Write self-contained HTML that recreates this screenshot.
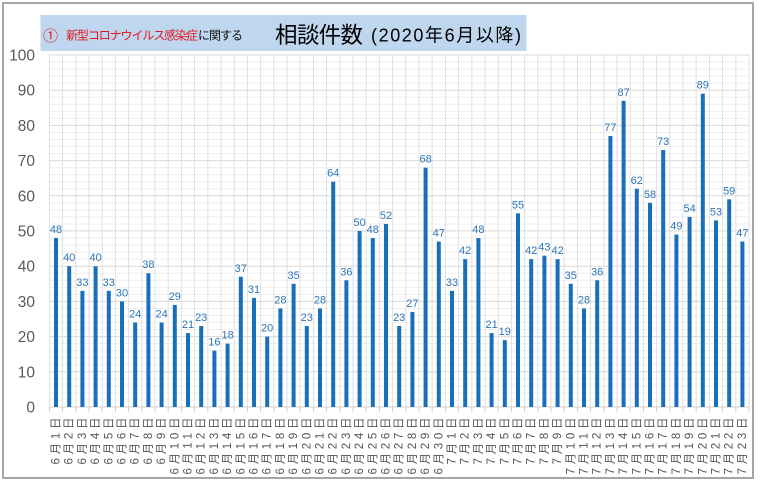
<!DOCTYPE html>
<html><head><meta charset="utf-8"><style>
html,body{margin:0;padding:0;background:#fff;}
svg{display:block;}
text{font-family:"Liberation Sans","Noto Sans CJK JP",sans-serif;}
</style></head><body>
<svg width="761" height="484" viewBox="0 0 761 484" xmlns="http://www.w3.org/2000/svg">
<rect x="0" y="0" width="761" height="484" fill="#fff"/>
<rect x="3" y="3" width="750" height="475" fill="#fff" stroke="#a6a6a6" stroke-width="2"/>
<!-- title -->
<rect x="40.5" y="15" width="486" height="36" fill="#bed6ee"/>
<text x="43" y="41" font-size="15" fill="#e3141c">①</text>
<text x="66" y="39.5" font-size="12" fill="#e3141c" textLength="132" lengthAdjust="spacing">新型コロナウイルス感染症</text>
<text x="198" y="39.5" font-size="12" fill="#111" textLength="45" lengthAdjust="spacing">に関する</text>
<text x="275" y="43" font-size="22.5" fill="#000" textLength="88" lengthAdjust="spacing">相談件数</text>
<text x="371" y="41.5" font-size="18" fill="#000" textLength="150" lengthAdjust="spacing">(2020年6月以降)</text>
<!-- minor horizontal grid -->
<path stroke="#efefef" stroke-width="1" fill="none" d="M49.4 399.96H749M49.4 392.92H749M49.4 385.88H749M49.4 378.84H749M49.4 364.76H749M49.4 357.72H749M49.4 350.68H749M49.4 343.64H749M49.4 329.56H749M49.4 322.52H749M49.4 315.48H749M49.4 308.44H749M49.4 294.36H749M49.4 287.32H749M49.4 280.28H749M49.4 273.24H749M49.4 259.16H749M49.4 252.12H749M49.4 245.08H749M49.4 238.04H749M49.4 223.96H749M49.4 216.92H749M49.4 209.88H749M49.4 202.84H749M49.4 188.76H749M49.4 181.72H749M49.4 174.68H749M49.4 167.64H749M49.4 153.56H749M49.4 146.52H749M49.4 139.48H749M49.4 132.44H749M49.4 118.36H749M49.4 111.32H749M49.4 104.28H749M49.4 97.24H749M49.4 83.16H749M49.4 76.12H749M49.4 69.08H749M49.4 62.04H749"/>
<!-- vertical grid -->
<path stroke="#e2e2e2" stroke-width="1" fill="none" d="M49.4 55V407M62.6 55V407M75.8 55V407M89 55V407M102.2 55V407M115.4 55V407M128.6 55V407M141.8 55V407M155 55V407M168.2 55V407M181.4 55V407M194.6 55V407M207.8 55V407M221 55V407M234.2 55V407M247.4 55V407M260.6 55V407M273.8 55V407M287 55V407M300.2 55V407M313.4 55V407M326.6 55V407M339.8 55V407M353 55V407M366.2 55V407M379.4 55V407M392.6 55V407M405.8 55V407M419 55V407M432.2 55V407M445.4 55V407M458.6 55V407M471.8 55V407M485 55V407M498.2 55V407M511.4 55V407M524.6 55V407M537.8 55V407M551 55V407M564.2 55V407M577.4 55V407M590.6 55V407M603.8 55V407M617 55V407M630.2 55V407M643.4 55V407M656.6 55V407M669.8 55V407M683 55V407M696.2 55V407M709.4 55V407M722.6 55V407M735.8 55V407M749 55V407"/>
<!-- major horizontal grid -->
<path stroke="#d9d9d9" stroke-width="1" fill="none" d="M49.4 371.8H749M49.4 336.6H749M49.4 301.4H749M49.4 266.2H749M49.4 231H749M49.4 195.8H749M49.4 160.6H749M49.4 125.4H749M49.4 90.2H749M49.4 55H749"/>
<!-- axis + ticks -->
<path stroke="#cfcfcf" stroke-width="1" fill="none" d="M49.4 407H749M49.4 407V412M62.6 407V412M75.8 407V412M89 407V412M102.2 407V412M115.4 407V412M128.6 407V412M141.8 407V412M155 407V412M168.2 407V412M181.4 407V412M194.6 407V412M207.8 407V412M221 407V412M234.2 407V412M247.4 407V412M260.6 407V412M273.8 407V412M287 407V412M300.2 407V412M313.4 407V412M326.6 407V412M339.8 407V412M353 407V412M366.2 407V412M379.4 407V412M392.6 407V412M405.8 407V412M419 407V412M432.2 407V412M445.4 407V412M458.6 407V412M471.8 407V412M485 407V412M498.2 407V412M511.4 407V412M524.6 407V412M537.8 407V412M551 407V412M564.2 407V412M577.4 407V412M590.6 407V412M603.8 407V412M617 407V412M630.2 407V412M643.4 407V412M656.6 407V412M669.8 407V412M683 407V412M696.2 407V412M709.4 407V412M722.6 407V412M735.8 407V412M749 407V412"/>
<!-- y labels -->
<g font-size="15.5" fill="#595959" text-anchor="end">
<text x="35" y="412.5">0</text>
<text x="35" y="377.3">10</text>
<text x="35" y="342.1">20</text>
<text x="35" y="306.9">30</text>
<text x="35" y="271.7">40</text>
<text x="35" y="236.5">50</text>
<text x="35" y="201.3">60</text>
<text x="35" y="166.1">70</text>
<text x="35" y="130.9">80</text>
<text x="35" y="95.7">90</text>
<text x="35" y="60.5">100</text>
</g>
<!-- bars -->
<g fill="#1b6fba" transform="translate(0,407) scale(1,-3.52)">
<rect x="54" y="0" width="4" height="48"/>
<rect x="67.2" y="0" width="4" height="40"/>
<rect x="80.4" y="0" width="4" height="33"/>
<rect x="93.6" y="0" width="4" height="40"/>
<rect x="106.8" y="0" width="4" height="33"/>
<rect x="120" y="0" width="4" height="30"/>
<rect x="133.2" y="0" width="4" height="24"/>
<rect x="146.4" y="0" width="4" height="38"/>
<rect x="159.6" y="0" width="4" height="24"/>
<rect x="172.8" y="0" width="4" height="29"/>
<rect x="186" y="0" width="4" height="21"/>
<rect x="199.2" y="0" width="4" height="23"/>
<rect x="212.4" y="0" width="4" height="16"/>
<rect x="225.6" y="0" width="4" height="18"/>
<rect x="238.8" y="0" width="4" height="37"/>
<rect x="252" y="0" width="4" height="31"/>
<rect x="265.2" y="0" width="4" height="20"/>
<rect x="278.4" y="0" width="4" height="28"/>
<rect x="291.6" y="0" width="4" height="35"/>
<rect x="304.8" y="0" width="4" height="23"/>
<rect x="318" y="0" width="4" height="28"/>
<rect x="331.2" y="0" width="4" height="64"/>
<rect x="344.4" y="0" width="4" height="36"/>
<rect x="357.6" y="0" width="4" height="50"/>
<rect x="370.8" y="0" width="4" height="48"/>
<rect x="384" y="0" width="4" height="52"/>
<rect x="397.2" y="0" width="4" height="23"/>
<rect x="410.4" y="0" width="4" height="27"/>
<rect x="423.6" y="0" width="4" height="68"/>
<rect x="436.8" y="0" width="4" height="47"/>
<rect x="450" y="0" width="4" height="33"/>
<rect x="463.2" y="0" width="4" height="42"/>
<rect x="476.4" y="0" width="4" height="48"/>
<rect x="489.6" y="0" width="4" height="21"/>
<rect x="502.8" y="0" width="4" height="19"/>
<rect x="516" y="0" width="4" height="55"/>
<rect x="529.2" y="0" width="4" height="42"/>
<rect x="542.4" y="0" width="4" height="43"/>
<rect x="555.6" y="0" width="4" height="42"/>
<rect x="568.8" y="0" width="4" height="35"/>
<rect x="582" y="0" width="4" height="28"/>
<rect x="595.2" y="0" width="4" height="36"/>
<rect x="608.4" y="0" width="4" height="77"/>
<rect x="621.6" y="0" width="4" height="87"/>
<rect x="634.8" y="0" width="4" height="62"/>
<rect x="648" y="0" width="4" height="58"/>
<rect x="661.2" y="0" width="4" height="73"/>
<rect x="674.4" y="0" width="4" height="49"/>
<rect x="687.6" y="0" width="4" height="54"/>
<rect x="700.8" y="0" width="4" height="89"/>
<rect x="714" y="0" width="4" height="53"/>
<rect x="727.2" y="0" width="4" height="59"/>
<rect x="740.4" y="0" width="4" height="47"/>
</g>
<!-- data labels -->
<g font-size="11" fill="#2e75b6" text-anchor="middle">
<text x="56" y="233">48</text>
<text x="69.2" y="261.2">40</text>
<text x="82.4" y="285.8">33</text>
<text x="95.6" y="261.2">40</text>
<text x="108.8" y="285.8">33</text>
<text x="122" y="296.4">30</text>
<text x="135.2" y="317.5">24</text>
<text x="148.4" y="268.2">38</text>
<text x="161.6" y="317.5">24</text>
<text x="174.8" y="299.9">29</text>
<text x="188" y="328.1">21</text>
<text x="201.2" y="321">23</text>
<text x="214.4" y="345.7">16</text>
<text x="227.6" y="338.6">18</text>
<text x="240.8" y="271.8">37</text>
<text x="254" y="292.9">31</text>
<text x="267.2" y="331.6">20</text>
<text x="280.4" y="303.4">28</text>
<text x="293.6" y="278.8">35</text>
<text x="306.8" y="321">23</text>
<text x="320" y="303.4">28</text>
<text x="333.2" y="176.7">64</text>
<text x="346.4" y="275.3">36</text>
<text x="359.6" y="226">50</text>
<text x="372.8" y="233">48</text>
<text x="386" y="219">52</text>
<text x="399.2" y="321">23</text>
<text x="412.4" y="307">27</text>
<text x="425.6" y="162.6">68</text>
<text x="438.8" y="236.6">47</text>
<text x="452" y="285.8">33</text>
<text x="465.2" y="254.2">42</text>
<text x="478.4" y="233">48</text>
<text x="491.6" y="328.1">21</text>
<text x="504.8" y="335.1">19</text>
<text x="518" y="208.4">55</text>
<text x="531.2" y="254.2">42</text>
<text x="544.4" y="250.6">43</text>
<text x="557.6" y="254.2">42</text>
<text x="570.8" y="278.8">35</text>
<text x="584" y="303.4">28</text>
<text x="597.2" y="275.3">36</text>
<text x="610.4" y="131">77</text>
<text x="623.6" y="95.8">87</text>
<text x="636.8" y="183.8">62</text>
<text x="650" y="197.8">58</text>
<text x="663.2" y="145">73</text>
<text x="676.4" y="229.5">49</text>
<text x="689.6" y="211.9">54</text>
<text x="702.8" y="88.7">89</text>
<text x="716" y="215.4">53</text>
<text x="729.2" y="194.3">59</text>
<text x="742.4" y="236.6">47</text>
</g>
<!-- x labels -->
<g font-size="11.5" fill="#555" text-anchor="end" dominant-baseline="central">
<text transform="translate(56.5,417.5) rotate(-90)" textLength="47" lengthAdjust="spacing">6月1日</text>
<text transform="translate(69.7,417.5) rotate(-90)" textLength="47" lengthAdjust="spacing">6月2日</text>
<text transform="translate(82.9,417.5) rotate(-90)" textLength="47" lengthAdjust="spacing">6月3日</text>
<text transform="translate(96.1,417.5) rotate(-90)" textLength="47" lengthAdjust="spacing">6月4日</text>
<text transform="translate(109.3,417.5) rotate(-90)" textLength="47" lengthAdjust="spacing">6月5日</text>
<text transform="translate(122.5,417.5) rotate(-90)" textLength="47" lengthAdjust="spacing">6月6日</text>
<text transform="translate(135.7,417.5) rotate(-90)" textLength="47" lengthAdjust="spacing">6月7日</text>
<text transform="translate(148.9,417.5) rotate(-90)" textLength="47" lengthAdjust="spacing">6月8日</text>
<text transform="translate(162.1,417.5) rotate(-90)" textLength="47" lengthAdjust="spacing">6月9日</text>
<text transform="translate(175.3,417.5) rotate(-90)" textLength="57" lengthAdjust="spacing">6月10日</text>
<text transform="translate(188.5,417.5) rotate(-90)" textLength="57" lengthAdjust="spacing">6月11日</text>
<text transform="translate(201.7,417.5) rotate(-90)" textLength="57" lengthAdjust="spacing">6月12日</text>
<text transform="translate(214.9,417.5) rotate(-90)" textLength="57" lengthAdjust="spacing">6月13日</text>
<text transform="translate(228.1,417.5) rotate(-90)" textLength="57" lengthAdjust="spacing">6月14日</text>
<text transform="translate(241.3,417.5) rotate(-90)" textLength="57" lengthAdjust="spacing">6月15日</text>
<text transform="translate(254.5,417.5) rotate(-90)" textLength="57" lengthAdjust="spacing">6月16日</text>
<text transform="translate(267.7,417.5) rotate(-90)" textLength="57" lengthAdjust="spacing">6月17日</text>
<text transform="translate(280.9,417.5) rotate(-90)" textLength="57" lengthAdjust="spacing">6月18日</text>
<text transform="translate(294.1,417.5) rotate(-90)" textLength="57" lengthAdjust="spacing">6月19日</text>
<text transform="translate(307.3,417.5) rotate(-90)" textLength="57" lengthAdjust="spacing">6月20日</text>
<text transform="translate(320.5,417.5) rotate(-90)" textLength="57" lengthAdjust="spacing">6月21日</text>
<text transform="translate(333.7,417.5) rotate(-90)" textLength="57" lengthAdjust="spacing">6月22日</text>
<text transform="translate(346.9,417.5) rotate(-90)" textLength="57" lengthAdjust="spacing">6月23日</text>
<text transform="translate(360.1,417.5) rotate(-90)" textLength="57" lengthAdjust="spacing">6月24日</text>
<text transform="translate(373.3,417.5) rotate(-90)" textLength="57" lengthAdjust="spacing">6月25日</text>
<text transform="translate(386.5,417.5) rotate(-90)" textLength="57" lengthAdjust="spacing">6月26日</text>
<text transform="translate(399.7,417.5) rotate(-90)" textLength="57" lengthAdjust="spacing">6月27日</text>
<text transform="translate(412.9,417.5) rotate(-90)" textLength="57" lengthAdjust="spacing">6月28日</text>
<text transform="translate(426.1,417.5) rotate(-90)" textLength="57" lengthAdjust="spacing">6月29日</text>
<text transform="translate(439.3,417.5) rotate(-90)" textLength="57" lengthAdjust="spacing">6月30日</text>
<text transform="translate(452.5,417.5) rotate(-90)" textLength="47" lengthAdjust="spacing">7月1日</text>
<text transform="translate(465.7,417.5) rotate(-90)" textLength="47" lengthAdjust="spacing">7月2日</text>
<text transform="translate(478.9,417.5) rotate(-90)" textLength="47" lengthAdjust="spacing">7月3日</text>
<text transform="translate(492.1,417.5) rotate(-90)" textLength="47" lengthAdjust="spacing">7月4日</text>
<text transform="translate(505.3,417.5) rotate(-90)" textLength="47" lengthAdjust="spacing">7月5日</text>
<text transform="translate(518.5,417.5) rotate(-90)" textLength="47" lengthAdjust="spacing">7月6日</text>
<text transform="translate(531.7,417.5) rotate(-90)" textLength="47" lengthAdjust="spacing">7月7日</text>
<text transform="translate(544.9,417.5) rotate(-90)" textLength="47" lengthAdjust="spacing">7月8日</text>
<text transform="translate(558.1,417.5) rotate(-90)" textLength="47" lengthAdjust="spacing">7月9日</text>
<text transform="translate(571.3,417.5) rotate(-90)" textLength="57" lengthAdjust="spacing">7月10日</text>
<text transform="translate(584.5,417.5) rotate(-90)" textLength="57" lengthAdjust="spacing">7月11日</text>
<text transform="translate(597.7,417.5) rotate(-90)" textLength="57" lengthAdjust="spacing">7月12日</text>
<text transform="translate(610.9,417.5) rotate(-90)" textLength="57" lengthAdjust="spacing">7月13日</text>
<text transform="translate(624.1,417.5) rotate(-90)" textLength="57" lengthAdjust="spacing">7月14日</text>
<text transform="translate(637.3,417.5) rotate(-90)" textLength="57" lengthAdjust="spacing">7月15日</text>
<text transform="translate(650.5,417.5) rotate(-90)" textLength="57" lengthAdjust="spacing">7月16日</text>
<text transform="translate(663.7,417.5) rotate(-90)" textLength="57" lengthAdjust="spacing">7月17日</text>
<text transform="translate(676.9,417.5) rotate(-90)" textLength="57" lengthAdjust="spacing">7月18日</text>
<text transform="translate(690.1,417.5) rotate(-90)" textLength="57" lengthAdjust="spacing">7月19日</text>
<text transform="translate(703.3,417.5) rotate(-90)" textLength="57" lengthAdjust="spacing">7月20日</text>
<text transform="translate(716.5,417.5) rotate(-90)" textLength="57" lengthAdjust="spacing">7月21日</text>
<text transform="translate(729.7,417.5) rotate(-90)" textLength="57" lengthAdjust="spacing">7月22日</text>
<text transform="translate(742.9,417.5) rotate(-90)" textLength="57" lengthAdjust="spacing">7月23日</text>
</g>
</svg>
</body></html>
